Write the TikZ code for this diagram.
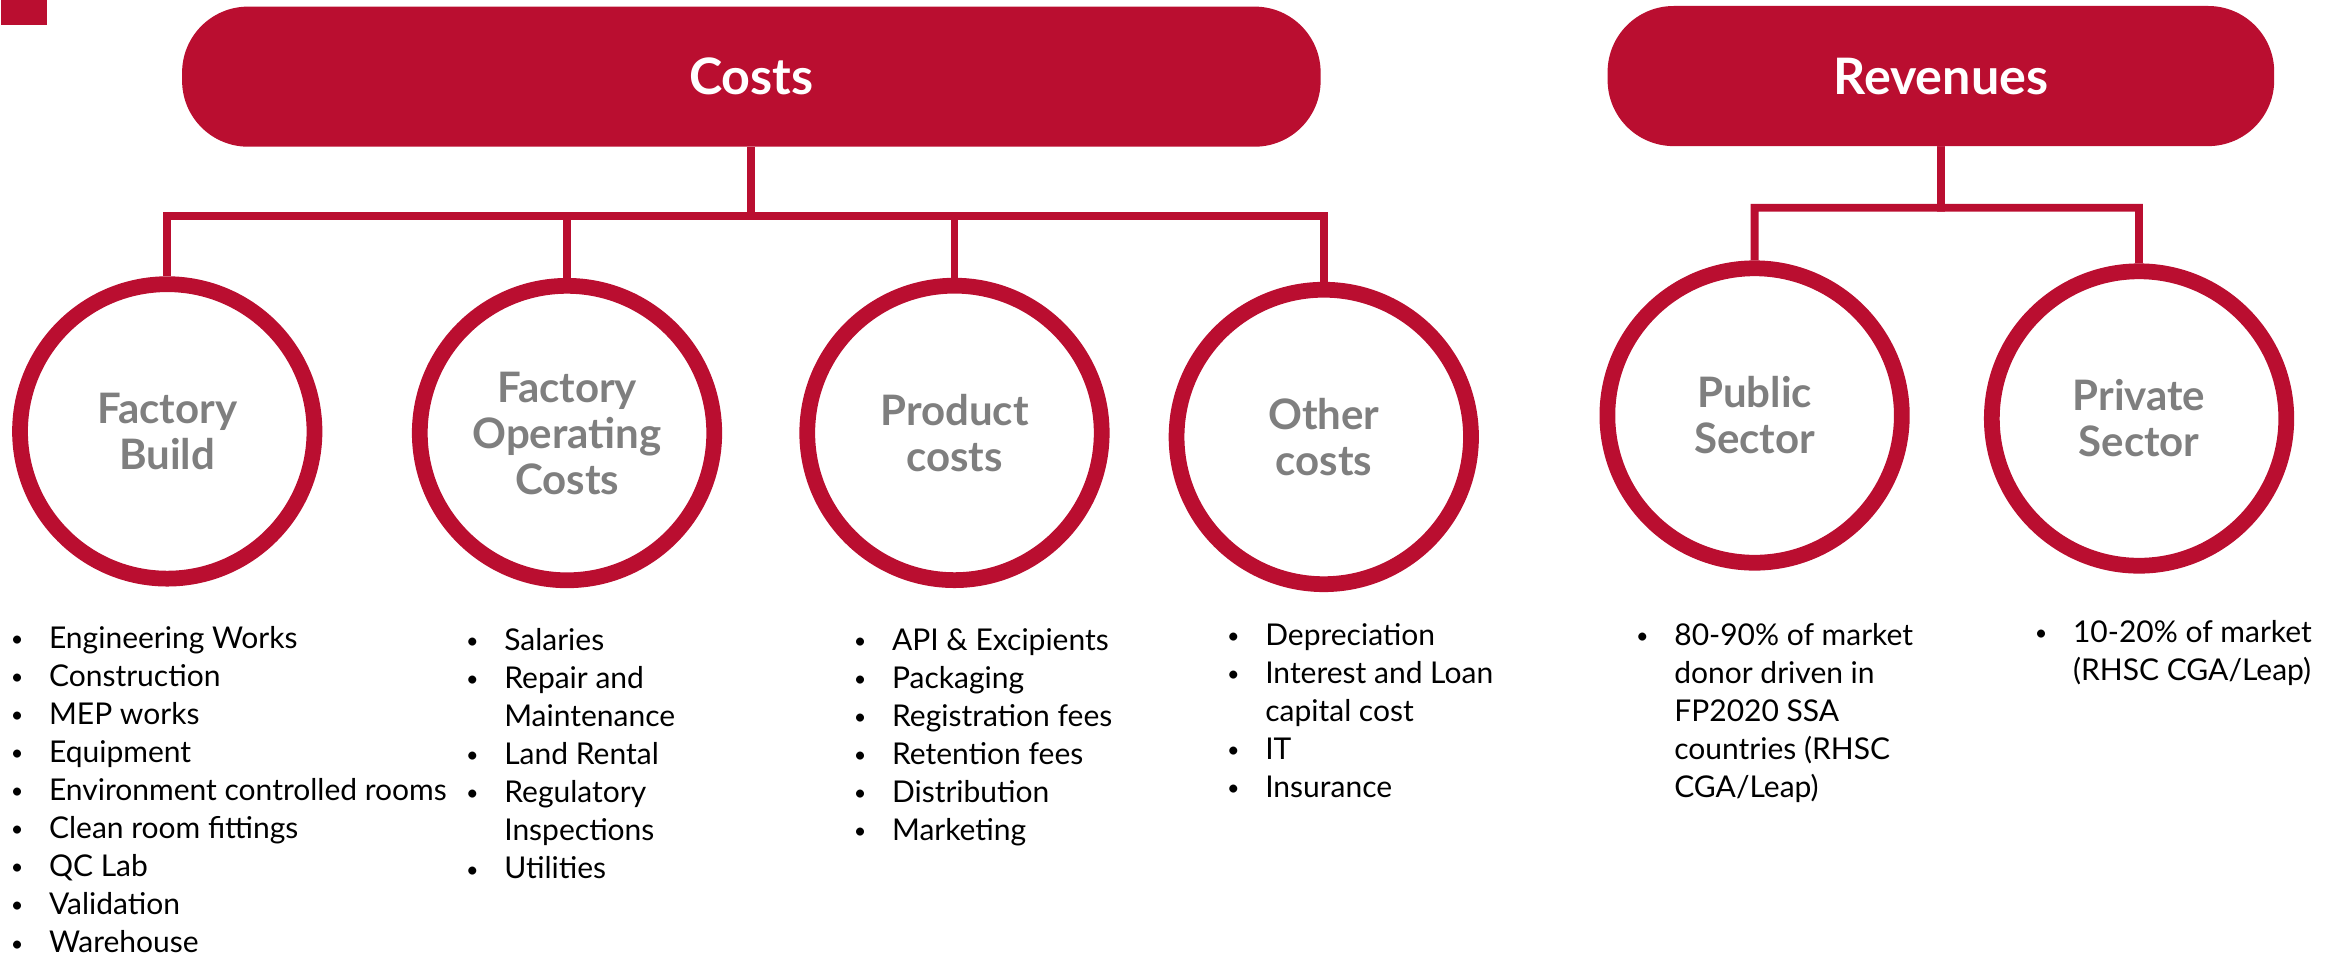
\documentclass[tikz,border=0pt]{standalone}
\usepackage{fontspec}
\setmainfont{Lato}
\definecolor{crimson}{RGB}{186,14,48}
\definecolor{labelgray}{RGB}{127,127,127}
\newlength{\bulw}
\setlength{\bulw}{42.6pt}
\newcommand{\bulitem}[1]{\makebox[\bulw][c]{\raisebox{1.2pt}{\scalebox{0.72}{\textbullet}}}#1}
\newcommand{\contitem}[1]{\hspace*{\bulw}#1}
\begin{document}
\begin{tikzpicture}[x=1pt,y=-1pt,
  header/.style={fill=crimson, rounded corners=44pt, minimum height=93.4pt, inner sep=0pt,
    text=white, font=\fontsize{33.5}{40}\selectfont\bfseries},
  ring/.style={circle, draw=crimson, line width=10.5pt, minimum size=196.3pt, inner sep=0pt,
    text=labelgray, align=center, font=\fontsize{28}{30.7}\selectfont\bfseries},
  conn/.style={draw=crimson, line width=5.2pt, line join=miter},
  item/.style={anchor=base west, inner sep=0pt, font=\fontsize{20}{25.4}\selectfont}]
\useasboundingbox (0,0) rectangle (1567.3,639.3);
\fill[crimson] (0.5,0) rectangle (31,16.7);

\node[header, minimum width=759pt] (costs) at (500.9,51.1) {Costs};
\node[header, minimum width=444.4pt] (rev) at (1293.9,50.7) {Revenues};

\node[ring] (fb) at (111.5,287.6) {Factory\\Build};
\node[ring] (foc) at (378,288.7) {Factory\\Operating\\Costs};
\node[ring] (pc) at (636.3,288.6) {Product\\costs};
\node[ring] (oc) at (882.5,291.3) {Other\\costs};
\node[ring] (pub) at (1169.7,277) {Public\\Sector};
\node[ring] (priv) at (1426,279) {Private\\Sector};

\coordinate (cbar) at (500.9,143.9);
\coordinate (rbar) at (1294,138.5);
\foreach \n in {fb,foc,pc,oc} \draw[conn] (costs.south) -- (cbar) -| (\n.north);
\foreach \n in {pub,priv} \draw[conn] (rev.south) -- (rbar) -| (\n.north);

\foreach \t [count=\i from 0] in {{\bulitem{Engineering Works}},{\bulitem{Construction}},{\bulitem{MEP works}},{\bulitem{Equipment}},{\bulitem{Environment controlled rooms}},{\bulitem{Clean room fittings}},{\bulitem{QC Lab}},{\bulitem{Validation}},{\bulitem{Warehouse}}}
  \node[item] (fbl\i) at (-10.1, 432+25.4*\i) {\t};
\foreach \t [count=\i from 0] in {{\bulitem{Salaries}},{\bulitem{Repair and}},{\contitem{Maintenance}},{\bulitem{Land Rental}},{\bulitem{Regulatory}},{\contitem{Inspections}},{\bulitem{Utilities}}}
  \node[item] (focl\i) at (293.4, 433.5+25.4*\i) {\t};
\foreach \t [count=\i from 0] in {{\bulitem{API \& Excipients}},{\bulitem{Packaging}},{\bulitem{Registration fees}},{\bulitem{Retention fees}},{\bulitem{Distribution}},{\bulitem{Marketing}}}
  \node[item] (pcl\i) at (551.9, 433.5+25.4*\i) {\t};
\foreach \t [count=\i from 0] in {{\bulitem{Depreciation}},{\bulitem{Interest and Loan}},{\contitem{capital cost}},{\bulitem{IT}},{\bulitem{Insurance}}}
  \node[item] (ocl\i) at (800.7, 430+25.4*\i) {\t};
\foreach \t [count=\i from 0] in {{\bulitem{80-90\% of market}},{\contitem{donor driven in}},{\contitem{FP2020 SSA}},{\contitem{countries (RHSC}},{\contitem{CGA/Leap)}}}
  \node[item] (publ\i) at (1073.4, 430+25.4*\i) {\t};
\foreach \t [count=\i from 0] in {{\bulitem{10-20\% of market}},{\contitem{(RHSC CGA/Leap)}}}
  \node[item] (privl\i) at (1339.2, 428+25.4*\i) {\t};
\end{tikzpicture}
\end{document}
